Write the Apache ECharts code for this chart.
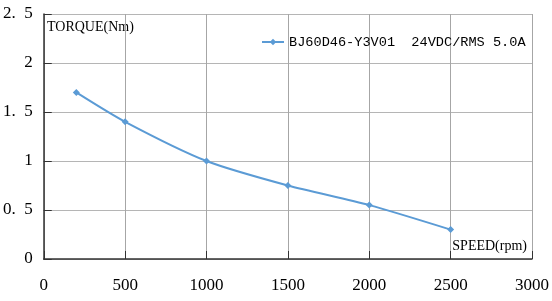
<!DOCTYPE html>
<html><head><meta charset="utf-8">
<script src="https://cdn.jsdelivr.net/npm/echarts@6/dist/echarts.min.js"></script>
<style>html,body{margin:0;padding:0;background:#fff}#c{width:552px;height:301px}</style>
</head><body><div id="c"></div>
<script>
const speeds = [200, 500, 1000, 1500, 2000, 2500];
const torque = [1.70, 1.40, 1.00, 0.75, 0.55, 0.30];
const seriesName = 'BJ60D46-Y3V01  24VDC/RMS 5.0A';
const yTickLabels = ['0', '0.\u20025', '1', '1.\u20025', '2', '2.\u20025'];
const xTickLabels = ['0', '500', '1000', '1500', '2000', '2500', '3000'];
const xTitle = 'SPEED(rpm)';
const yTitle = 'TORQUE(Nm)';

const chart = echarts.init(document.getElementById('c'));
const serif = '"Liberation Serif", "DejaVu Serif", serif';
chart.setOption({
  animation: false,
  grid: {left: 43, right: 20, top: 14, bottom: 42},
  legend: {
    data: [seriesName], top: 30, left: 256, itemWidth: 22, itemHeight: 8, itemGap: 5,
    textStyle: {fontFamily: '"Liberation Mono", monospace', fontSize: 13.6, color: '#000'}
  },
  xAxis: {
    type: 'value', min: 0, max: 3000, interval: 500,
    axisLine: {lineStyle: {color: '#333', width: 1.5}},
    axisTick: {inside: true, length: 8, lineStyle: {color: '#333'}},
    splitLine: {lineStyle: {color: '#a6a6a6'}},
    axisLabel: {margin: 18, fontFamily: serif, fontSize: 17, color: '#000',
      formatter: v => xTickLabels[Math.round(v / 500)]}
  },
  yAxis: {
    type: 'value', min: 0, max: 2.5, interval: 0.5,
    axisLine: {show: true, lineStyle: {color: '#333', width: 1.5}},
    axisTick: {show: true, inside: true, length: 8, lineStyle: {color: '#333'}},
    splitLine: {lineStyle: {color: '#b5b5b5'}},
    axisLabel: {margin: 11, fontFamily: serif, fontSize: 17, color: '#000',
      formatter: v => yTickLabels[Math.round(v / 0.5)]}
  },
  graphic: [
    {type: 'text', left: 47, top: 20, style: {text: yTitle, fontFamily: serif, fontSize: 14, fill: '#000'}},
    {type: 'text', right: 25, top: 239, style: {text: xTitle, fontFamily: serif, fontSize: 14, fill: '#000'}}
  ],
  series: [{
    name: seriesName, type: 'line', smooth: 0.25,
    data: speeds.map((s, i) => [s, torque[i]]),
    symbol: 'diamond', symbolSize: 7,
    lineStyle: {color: '#5b9bd5', width: 2},
    itemStyle: {color: '#5b9bd5'}
  }]
});
</script></body></html>
